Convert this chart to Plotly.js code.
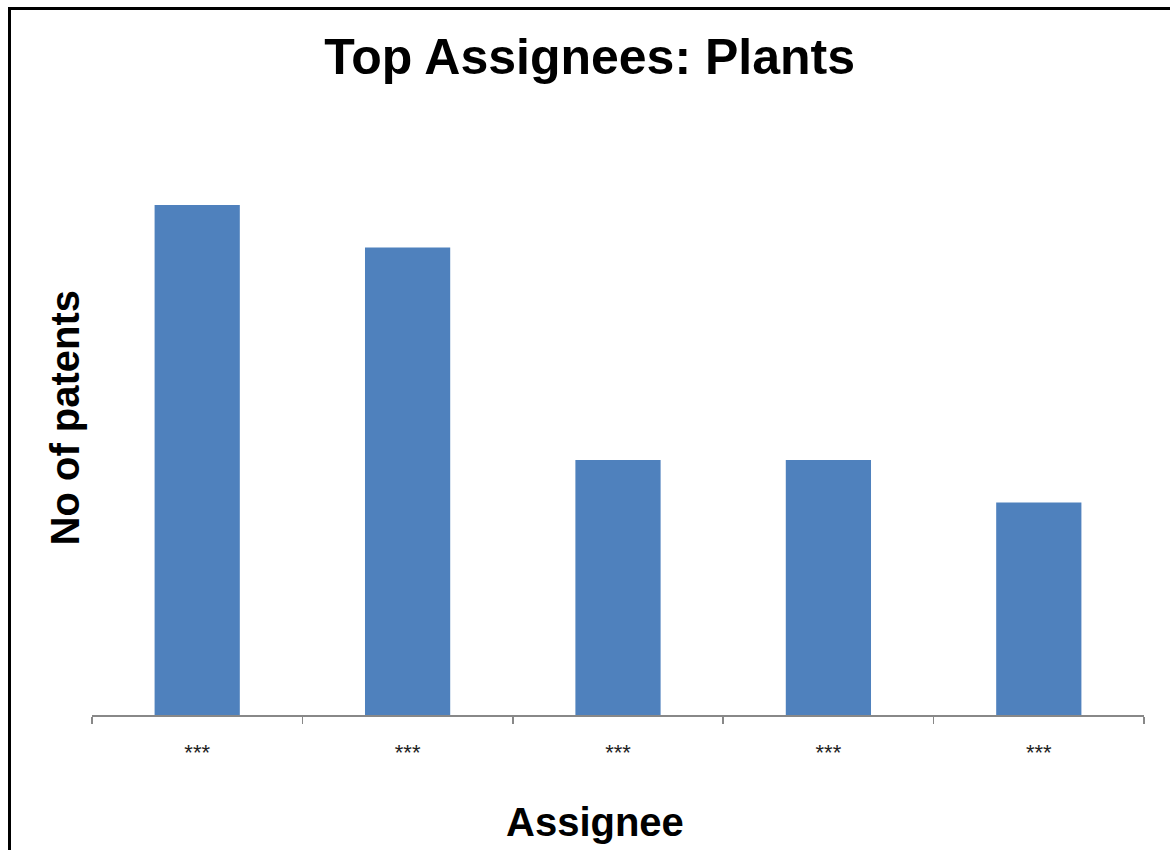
<!DOCTYPE html>
<html>
<head>
<meta charset="utf-8">
<script src="https://cdn.plot.ly/plotly-3.0.1.min.js"></script>
<style>
  html, body { margin: 0; padding: 0; background: #fff; }
  #chart { position: absolute; left: 0; top: 0; width: 1170px; height: 850px; }
  #frame { position: absolute; left: 8px; top: 7px; width: 1200px; height: 900px;
           border-top: 3px solid #000; border-left: 3px solid #000; pointer-events: none; }
</style>
</head>
<body>
<div id="chart"></div>
<div id="frame"></div>
<script>
const categories = ["A1", "A2", "A3", "A4", "A5"];
const tickLabels = ["***", "***", "***", "***", "***"];
const patents = [12, 11, 6, 6, 5];

const FONT = "Liberation Sans, Arial, sans-serif";

const trace = {
  type: "bar",
  x: categories,
  y: patents,
  marker: { color: "#4F81BD" },
  hoverinfo: "y"
};

const layout = {
  width: 1170,
  height: 850,
  margin: { l: 92, r: 26, t: 120, b: 135 },
  paper_bgcolor: "#fff",
  plot_bgcolor: "#fff",
  bargap: 0.595,
  showlegend: false,
  title: {
    text: "<b>Top Assignees: Plants</b>",
    font: { family: FONT, size: 50, color: "#000" },
    x: 0.504, xanchor: "center",
    y: 0.933, yanchor: "middle"
  },
  xaxis: {
    type: "category",
    tickmode: "array",
    tickvals: categories,
    ticktext: tickLabels,
    tickson: "boundaries",
    ticks: "outside",
    ticklen: 7,
    tickwidth: 1.5,
    tickcolor: "#888",
    ticklabelstandoff: 17,
    showline: true,
    linecolor: "#888",
    linewidth: 1.5,
    showgrid: false,
    zeroline: false,
    tickfont: { family: FONT, size: 22, color: "#222" }
  },
  yaxis: {
    range: [0, 14],
    showticklabels: false,
    ticks: "",
    showgrid: false,
    zeroline: false,
    showline: false
  },
  annotations: [
    {
      text: "<b>Assignee</b>",
      font: { family: FONT, size: 40, color: "#000" },
      xref: "paper", yref: "paper",
      x: 0.478, y: -0.18, xanchor: "center", yanchor: "middle",
      showarrow: false
    },
    {
      text: "<b>No of patents</b>",
      font: { family: FONT, size: 40, color: "#000" },
      xref: "paper", yref: "paper",
      x: -0.0257, y: 0.5, xanchor: "center", yanchor: "middle",
      textangle: -90,
      showarrow: false
    }
  ]
};

Plotly.newPlot("chart", [trace], layout, { displayModeBar: false, staticPlot: true });
</script>
</body>
</html>
